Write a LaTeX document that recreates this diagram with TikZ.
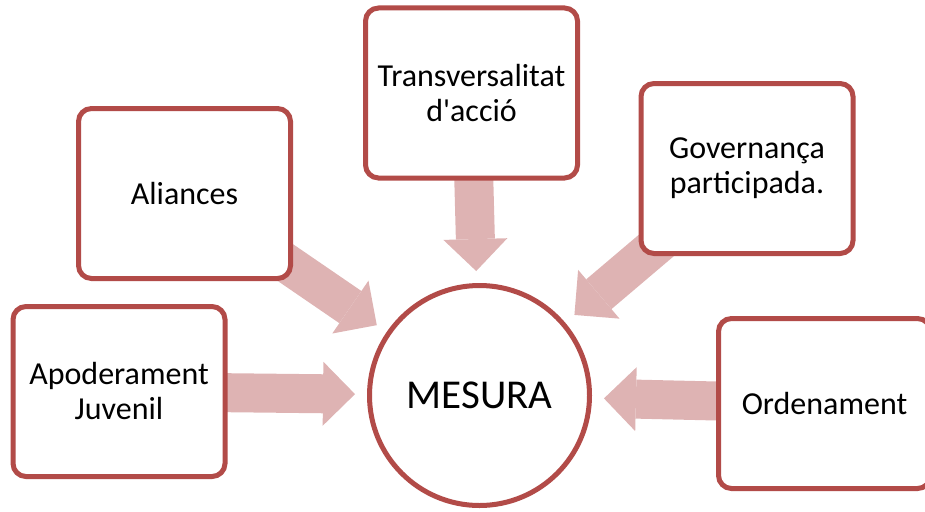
\documentclass[tikz,border=0pt]{standalone}
\usepackage{fontspec}
\setmainfont{Carlito}
\usetikzlibrary{arrows.meta,backgrounds}
\definecolor{vora}{RGB}{178,75,72}
\definecolor{rosa}{RGB}{222,179,179}

\begin{document}
\begin{tikzpicture}[x=1pt, y=-1pt,
    bloc/.style={draw=vora, line width=5pt, fill=white, rounded corners=13pt,
      minimum width=212pt, minimum height=170pt, inner sep=0pt, align=center,
      font=\fontsize{32}{35}\selectfont},
    centre/.style={circle, draw=vora, line width=5pt, fill=white, inner sep=0pt,
      minimum size=220pt, font=\fontsize{41}{45}\selectfont},
    fletxa/.style={draw=rosa, line width=39pt, shorten >=12pt,
      -{Triangle[width=64pt,length=32pt,line width=0pt]}}]
    \useasboundingbox (0,0) rectangle (925,511);

    \node[centre] (mesura) at (479.5,395.5) {MESURA};
    \node[bloc] (trans) at (471.5,93)  {Transversalitat\\d\textquotesingle acció};
    \node[bloc] (alia)  at (184.5,193.5) {Aliances};
    \node[bloc] (gov)   at (747,168.5) {Governança\\participada.};
    \node[bloc] (apod)  at (119,391.5) {Apoderament\\Juvenil};
    \node[bloc] (orde)  at (824.5,403.5) {Ordenament};

    % fletxes cap al centre
    \begin{pgfonlayer}{background}
      \draw[fletxa] (trans.center) -- (mesura);
      \draw[fletxa] (alia.center) -- (mesura);
      \draw[fletxa] (gov.center) -- (mesura);
      \draw[fletxa] (apod.center) -- (mesura);
      \draw[fletxa] (orde.center) -- (mesura);
    \end{pgfonlayer}
\end{tikzpicture}
\end{document}
